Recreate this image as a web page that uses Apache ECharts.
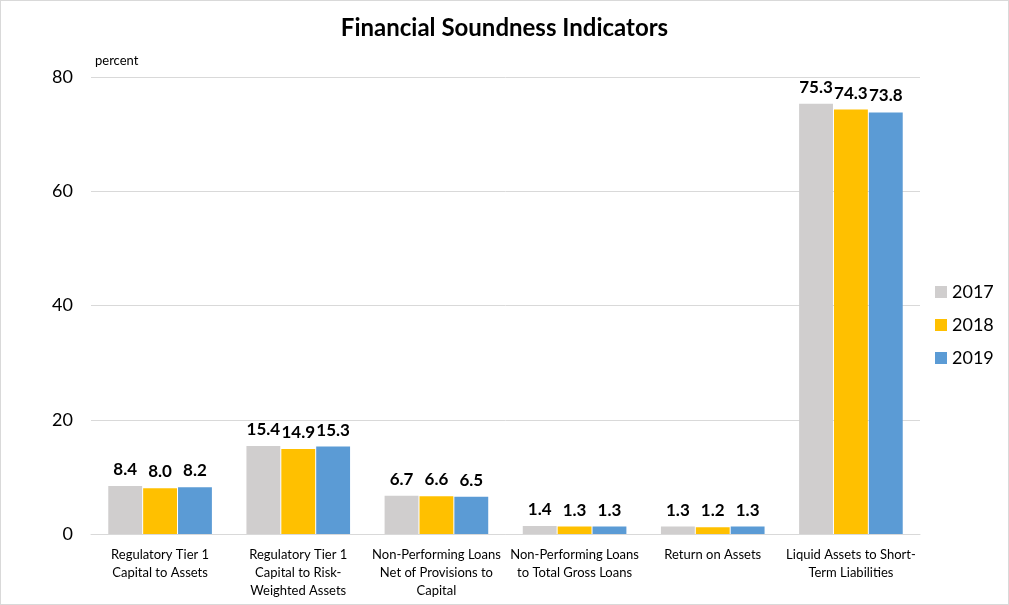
<!DOCTYPE html>
<html>
<head>
<meta charset="utf-8">
<script src="https://cdn.jsdelivr.net/npm/echarts@6/dist/echarts.min.js"></script>
<style>
html,body{margin:0;padding:0;background:#fff;}
#wrap{width:1009px;height:605px;box-sizing:border-box;border:1px solid #d9d9d9;}
#chart{width:1007px;height:603px;}
</style>
</head>
<body>
<div id="wrap"><div id="chart"></div></div>
<script>
const categories = [
  "Regulatory Tier 1\nCapital to Assets",
  "Regulatory Tier 1\nCapital to Risk-\nWeighted Assets",
  "Non-Performing Loans\nNet of Provisions to\nCapital",
  "Non-Performing Loans\nto Total Gross Loans",
  "Return on Assets",
  "Liquid Assets to Short-\nTerm Liabilities"
];
const seriesNames = ["2017", "2018", "2019"];
const values2017 = [8.4, 15.4, 6.7, 1.4, 1.3, 75.3];
const values2018 = [8.0, 14.9, 6.6, 1.3, 1.2, 74.3];
const values2019 = [8.2, 15.3, 6.5, 1.3, 1.3, 73.8];
const colors = ["#D0CECE", "#FFC000", "#5B9BD5"];
const yTicks = [0, 20, 40, 60, 80];

const font = "Lato, 'Open Sans', sans-serif";
const chart = echarts.init(document.getElementById('chart'));
const mk = (name, data, color) => ({
  name, type: 'bar', data,
  itemStyle: { color },
  barGap: '3%',
  barCategoryGap: '25%',
  label: {
    show: true, position: 'top', distance: 8,
    formatter: p => p.value.toFixed(1),
    color: '#000', fontWeight: 'bold', fontSize: 17, fontFamily: font
  }
});
chart.setOption({
  animation: false,
  textStyle: { fontFamily: font },
  title: {
    text: 'Financial Soundness Indicators',
    left: 'center', top: 10,
    textStyle: { fontSize: 24, fontWeight: 'bold', color: '#000', fontFamily: font }
  },
  legend: {
    orient: 'vertical', left: 929, top: 277,
    itemWidth: 12, itemHeight: 12, itemGap: 15,
    icon: 'rect',
    textStyle: { fontSize: 18, color: '#000', fontFamily: font },
    data: seriesNames
  },
  grid: { left: 90, right: 88, top: 76, bottom: 70 },
  xAxis: {
    type: 'category', data: categories,
    axisTick: { show: false },
    axisLine: { lineStyle: { color: '#d9d9d9' } },
    axisLabel: { color: '#000', fontSize: 13, lineHeight: 18, margin: 12, interval: 0, fontFamily: font }
  },
  yAxis: {
    type: 'value', min: 0, max: 80, interval: 20,
    name: 'percent', nameLocation: 'end', nameGap: 10,
    nameTextStyle: { align: 'left', fontSize: 13, color: '#000', padding: [0, 0, 0, 4], fontFamily: font },
    axisLine: { show: false }, axisTick: { show: false },
    splitLine: { lineStyle: { color: '#d9d9d9' } },
    axisLabel: { color: '#000', fontSize: 18, margin: 18, fontFamily: font,
      formatter: v => yTicks.includes(v) ? String(v) : '' }
  },
  series: [
    mk(seriesNames[0], values2017, colors[0]),
    mk(seriesNames[1], values2018, colors[1]),
    mk(seriesNames[2], values2019, colors[2])
  ]
});
</script>
</body>
</html>
